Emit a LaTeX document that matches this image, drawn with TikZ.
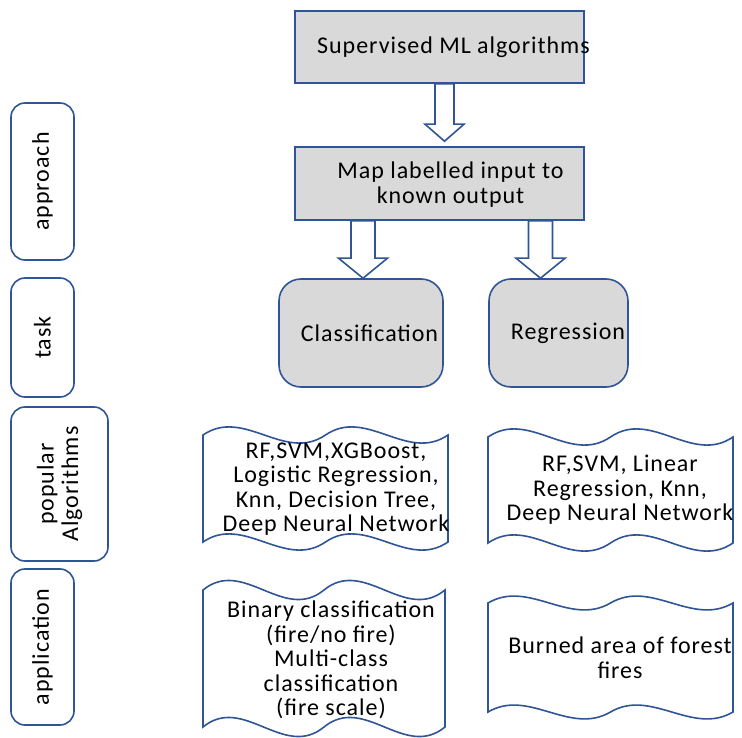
\documentclass[tikz,border=0pt]{standalone}
\usepackage{fontspec}
\newfontfamily\diagfont{Carlito}[LetterSpace=4.0]
\usetikzlibrary{calc}
\definecolor{edgeblue}{HTML}{2F5597}
\definecolor{boxgray}{HTML}{D9D9D9}

% hollow block arrow pointing down: start, tip, shaft half width, head half width, head length
\newcommand{\blockdown}[5]{%
  \draw[blockarrow] let \p1=(#1), \p2=(#2) in
    (\x2-#3pt,\y1) -- (\x2-#3pt,\y2+#5pt) -- (\x2-#4pt,\y2+#5pt) -- (\x2,\y2)
    -- (\x2+#4pt,\y2+#5pt) -- (\x2+#3pt,\y2+#5pt) -- (\x2+#3pt,\y1) -- cycle;}

% document outline with a double wave on top and bottom: x1, x2, top, bottom, control offset
\newcommand{\docwave}[5]{%
  \pgfmathsetmacro\dwP{(#2-#1)/2}%
  \draw[docline] (#1,#3) .. controls +(\dwP/3,-#5) and +(-\dwP/3,#5) .. (#1+\dwP,#3)
    .. controls +(\dwP/3,-#5) and +(-\dwP/3,#5) .. (#2,#3)
    -- (#2,#4) .. controls +(-\dwP/3,#5) and +(\dwP/3,-#5) .. (#2-\dwP,#4)
    .. controls +(-\dwP/3,#5) and +(\dwP/3,-#5) .. (#1,#4) -- cycle;}

\tikzset{
  every node/.style={font=\diagfont\fontsize{24}{24.5}\selectfont, text=black, inner sep=0pt},
  graybox/.style={draw=edgeblue, line width=1.6pt, fill=boxgray, rectangle},
  taskbox/.style={graybox, rounded corners=22pt},
  sidebox/.style={draw=edgeblue, line width=1.6pt, fill=white, rounded corners=14pt, rotate=90, align=center},
  blockarrow/.style={draw=edgeblue, line width=1.6pt, fill=white, line join=miter},
  docline/.style={draw=edgeblue, line width=1.6pt, fill=white},
  doctext/.style={align=center},
}

\begin{document}
\begin{tikzpicture}[x=1pt,y=-1pt]
\useasboundingbox[fill=white] (0,0) rectangle (742,738);

% left column: category labels
\node[sidebox, minimum width=157pt, minimum height=63pt] (approach) at (42.5,181.5) {approach};
\node[sidebox, minimum width=119pt, minimum height=63pt] (task) at (42.5,337.5) {task};
\node[sidebox, minimum width=154pt, minimum height=97pt] (popular) at (59.5,484) {popular\\Algorithms};
\node[sidebox, minimum width=156pt, minimum height=63pt] (application) at (42.5,647) {application};

% main flow
\node[graybox, minimum width=289pt, minimum height=72pt] (sup) at (439.5,47) {};
\node (suptext) at ($(sup.center)+(14,0)$) {Supervised ML algorithms};

\node[graybox, minimum width=289pt, minimum height=73pt] (map) at (439.5,183.5) {};
\node[align=center] (maptext) at ($(map.center)+(11,1)$) {Map labelled input to\\known output};

\node[taskbox, minimum width=164pt, minimum height=108pt] (class) at (361,333) {};
\node (classtext) at ($(class.center)+(8.5,0)$) {Classification};
\node[taskbox, minimum width=139pt, minimum height=108pt] (regress) at (558.5,333) {};
\node (regresstext) at ($(regress.center)+(9.5,0)$) {Regression};

% block arrows
\blockdown{$(sup.south)+(5,0)$}{$(map.north)+(5,-5)$}{9.5}{19.5}{17}
\blockdown{$(map.south)+(-76.5,0)$}{$(class.north)+(2,0)$}{12}{24.5}{20}
\blockdown{$(map.south)+(101,0)$}{$(regress.north)+(-18,0)$}{12}{24.5}{20}

% popular algorithms
\docwave{203}{448}{435}{542}{28}
\node[doctext] (alglist1) at (336,489) {RF,SVM,XGBoost,\\Logistic Regression,\\Knn, Decision Tree,\\Deep Neural Network};
\docwave{488}{733}{437}{543}{28}
\node[doctext] (alglist2) at (620,490) {RF,SVM, Linear\\Regression, Knn,\\Deep Neural Network};

% applications
\docwave{203}{445}{590}{727}{33}
\node[doctext] (app1) at (331,660) {Binary classification\\(fire/no fire)\\Multi-class\\classification\\(fire scale)};
\docwave{488}{733}{603}{712}{24}
\node[doctext] (app2) at (620,658) {Burned area of forest\\fires};
\end{tikzpicture}
\end{document}
